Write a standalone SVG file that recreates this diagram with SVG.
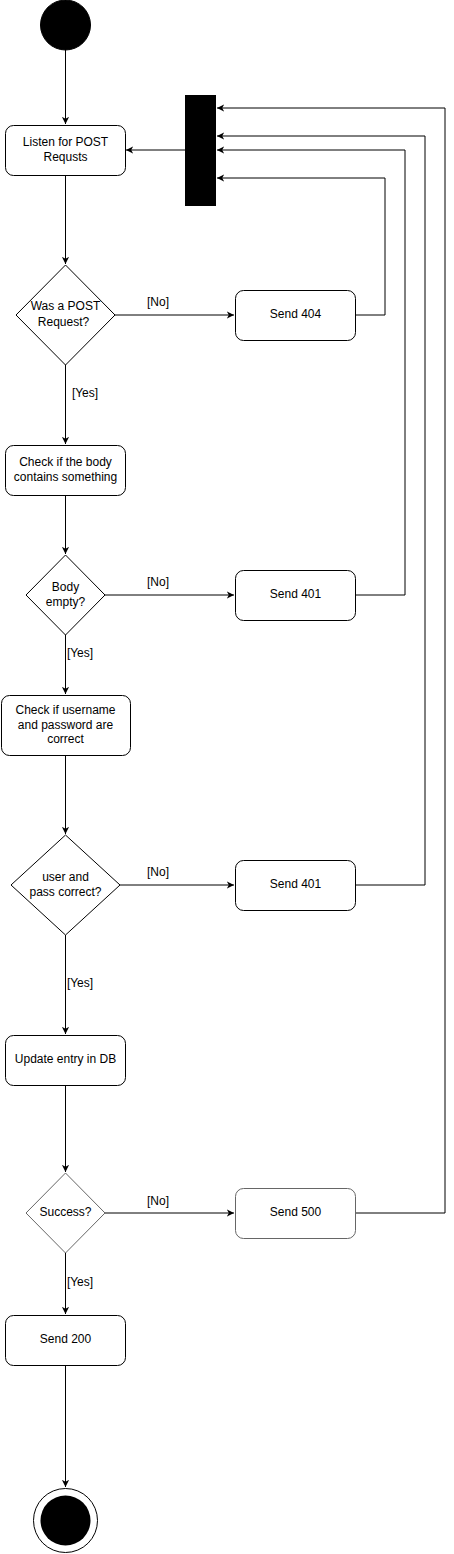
<svg xmlns="http://www.w3.org/2000/svg" width="454" height="1554" viewBox="0 0 454 1554">
<style>
.box{fill:#fff;stroke:#000;stroke-width:1}
.dia{fill:#fff;stroke:#000;stroke-width:1}
.grey{stroke:#666}
.t{font-family:"Liberation Sans",Arial,sans-serif;font-size:12px;fill:#000;text-anchor:middle}
.lbl{font-family:"Liberation Sans",Arial,sans-serif;font-size:12px;fill:#000;text-anchor:middle}
.e{fill:none;stroke:#000;stroke-width:1}
</style>
<defs>
<marker id="arr" viewBox="0 0 10 10" refX="9" refY="5" markerWidth="8" markerHeight="8" markerUnits="userSpaceOnUse" orient="auto">
<path d="M0,0.5 L9,5 L0,9.5 L2.5,5 z" fill="#000"/>
</marker>
</defs>
<g id="connectors">
<path class="e" d="M65.5,50 V124" marker-end="url(#arr)"/>
<path class="e" d="M185,150 H126" marker-end="url(#arr)"/>
<path class="e" d="M65.5,175 V264" marker-end="url(#arr)"/>
<path class="e" d="M115,315 H234" marker-end="url(#arr)"/>
<path class="e" d="M355,315 H385 V178 H217" marker-end="url(#arr)"/>
<path class="e" d="M65.5,365 V444" marker-end="url(#arr)"/>
<path class="e" d="M65.5,495 V554" marker-end="url(#arr)"/>
<path class="e" d="M105,595 H234" marker-end="url(#arr)"/>
<path class="e" d="M355,595 H405 V150 H217" marker-end="url(#arr)"/>
<path class="e" d="M65.5,635 V694" marker-end="url(#arr)"/>
<path class="e" d="M65.5,755 V834" marker-end="url(#arr)"/>
<path class="e" d="M120,885 H234" marker-end="url(#arr)"/>
<path class="e" d="M355,885 H425 V136 H217" marker-end="url(#arr)"/>
<path class="e" d="M65.5,935 V1034" marker-end="url(#arr)"/>
<path class="e" d="M65.5,1085 V1172" marker-end="url(#arr)"/>
<path class="e grey" d="M105,1213 H234" marker-end="url(#arr)"/>
<path class="e" d="M355,1213 H445 V108 H217" marker-end="url(#arr)"/>
<path class="e" d="M65.5,1253 V1314" marker-end="url(#arr)"/>
<path class="e" d="M65.5,1365 V1487" marker-end="url(#arr)"/>
<text class="lbl" x="158" y="306">[No]</text>
<text class="lbl" x="85" y="397">[Yes]</text>
<text class="lbl" x="158" y="586">[No]</text>
<text class="lbl" x="80" y="657">[Yes]</text>
<text class="lbl" x="158" y="876">[No]</text>
<text class="lbl" x="80" y="987">[Yes]</text>
<text class="lbl" x="158" y="1205">[No]</text>
<text class="lbl" x="80" y="1286">[Yes]</text>
</g>
<g id="start"><circle cx="65.5" cy="25" r="25" fill="#000" stroke="#000"/></g>
<g id="listen"><rect class="box" x="5.5" y="125.5" width="120" height="50" rx="8"/>
<text class="t" x="65.5" y="146">Listen for POST</text><text class="t" x="65.5" y="161">Requsts</text></g>
<g id="bar"><rect x="185" y="95" width="31" height="111" fill="#000"/></g>
<g id="d1"><path class="dia" d="M65.5,265 L115,315 L65.5,365 L16,315 Z"/>
<text class="t" x="65.5" y="310">Was a POST</text><text class="t" x="63.5" y="326">Request?</text></g>
<g id="send404"><rect class="box" x="235.5" y="290.5" width="120" height="50" rx="8"/>
<text class="t" x="295.5" y="318">Send 404</text></g>
<g id="checkbody"><rect class="box" x="5.5" y="445.5" width="120" height="50" rx="8"/>
<text class="t" x="65.5" y="466">Check if the body</text><text class="t" x="65.5" y="481">contains something</text></g>
<g id="d2"><path class="dia" d="M65.5,555 L105,595 L65.5,635 L26,595 Z"/>
<text class="t" x="65.5" y="591">Body</text><text class="t" x="65.5" y="606">empty?</text></g>
<g id="send401a"><rect class="box" x="235.5" y="570.5" width="120" height="50" rx="8"/>
<text class="t" x="295.5" y="598">Send 401</text></g>
<g id="checkuser"><rect class="box" x="1.5" y="695.5" width="129" height="60" rx="8"/>
<text class="t" x="65.5" y="714">Check if username</text><text class="t" x="65.5" y="729">and password are</text><text class="t" x="65.5" y="743">correct</text></g>
<g id="d3"><path class="dia" d="M65.5,835 L120,885 L65.5,935 L11,885 Z"/>
<text class="t" x="65.5" y="881">user and</text><text class="t" x="65.5" y="896">pass correct?</text></g>
<g id="send401b"><rect class="box" x="235.5" y="860.5" width="120" height="50" rx="8"/>
<text class="t" x="295.5" y="888">Send 401</text></g>
<g id="update"><rect class="box" x="5.5" y="1035.5" width="120" height="50" rx="8"/>
<text class="t" x="65.5" y="1063">Update entry in DB</text></g>
<g id="d4"><path class="dia grey" d="M65.5,1173 L105,1213 L65.5,1253 L26,1213 Z"/>
<text class="t" x="65.5" y="1216">Success?</text></g>
<g id="send500"><rect class="box grey" x="235.5" y="1188.5" width="120" height="50" rx="8"/>
<text class="t" x="295.5" y="1216">Send 500</text></g>
<g id="send200"><rect class="box" x="5.5" y="1315.5" width="120" height="50" rx="8"/>
<text class="t" x="65.5" y="1343">Send 200</text></g>
<g id="end"><circle cx="65.5" cy="1520.5" r="32" fill="#fff" stroke="#000"/><circle cx="65.5" cy="1520.5" r="25" fill="#000"/></g>
</svg>
